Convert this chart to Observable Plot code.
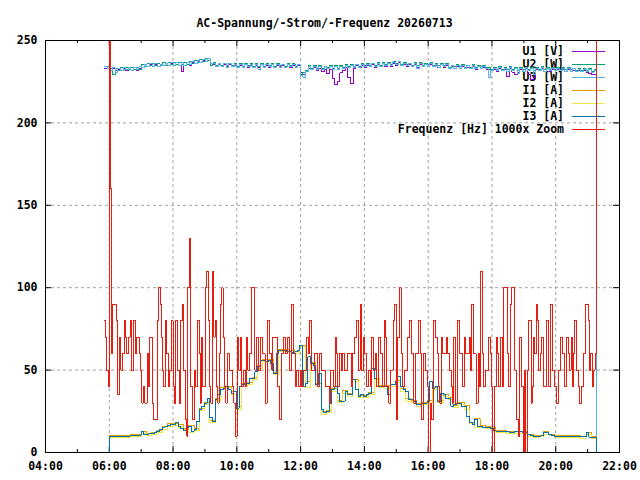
<!DOCTYPE html>
<html><head><meta charset="utf-8">
<script src="https://cdn.jsdelivr.net/npm/d3@7"></script>
<script src="https://cdn.jsdelivr.net/npm/@observablehq/plot@0.6"></script>
<style>body{margin:0;background:#fff}</style>
</head><body><div id="chart"></div>
<script>
const title = "AC-Spannung/-Strom/-Frequenz 20260713";
const seriesNames = ["U1 [V]", "U2 [W]", "U3 [W]", "I1 [A]", "I2 [A]", "I3 [A]", "Frequenz [Hz] 1000x Zoom"];
const seriesColors = ["#9400d3", "#009e73", "#56b4e9", "#e69f00", "#f0e442", "#0072b2", "#e51e10"];
const yTickValues = [0, 50, 100, 150, 200, 250];

// voltages, 5-min samples, 05:51 .. 21:17 (minutes since midnight)
const voltStart = 351, voltEnd = 1277;
const U1 = [233.3, 234.2,
 231.9, 232.8, 231.6, 232.7, 231.8, 233.2, 231.9, 233.5, 232.0, 233.4, 231.8, 233.3,
 233.7, 235.2, 234.3, 235.5, 234.2, 235.4, 234.5, 235.3, 234.7, 236.0, 234.6, 236.2,
 235.0, 236.4, 234.8, 231.2, 235.1, 236.6, 235.0, 236.5, 235.8, 237.3, 236.9, 238.0,
 238.9, 237.9, 236.2, 235.5, 234.6, 235.6, 234.4, 235.2, 234.4, 235.3, 234.2, 235.0,
 233.9, 235.1, 233.8, 235.2, 233.9, 234.8, 234.2, 235.1, 233.9, 235.4, 233.7, 235.0,
 233.9, 235.3, 233.7, 235.1, 234.2, 234.9, 233.8, 235.3, 233.7, 235.1, 233.5, 234.9,
 230.8, 229.2, 231.5, 233.1, 232.3, 233.4, 232.0, 233.2, 231.2, 232.6, 230.2, 232.4,
 227.2, 223.3, 225.2, 230.4, 232.0, 233.5, 227.6, 223.8, 233.2, 234.6, 233.8, 234.7,
 233.9, 234.9, 234.0, 235.5, 233.9, 235.6, 234.2, 235.8, 234.3, 235.9, 234.5, 236.1,
 235.1, 236.8, 234.8, 235.6, 234.5, 235.3, 234.4, 235.5, 233.9, 235.6, 234.0, 235.4,
 234.3, 235.4, 234.2, 235.1, 233.7, 235.3, 233.8, 235.0, 232.8, 234.2, 233.1, 234.1,
 233.1, 234.2, 233.0, 233.9, 232.9, 234.4, 232.6, 234.1, 233.0, 233.8, 232.7, 232.5,
 231.6, 232.7, 231.4, 232.8, 231.5, 232.4, 228.3, 232.9, 230.8, 229.2, 230.4, 232.6,
 231.2, 232.8, 229.6, 226.3, 227.6, 232.4, 231.5, 233.0, 231.3, 232.8, 231.4, 232.3,
 231.5, 232.5, 231.6, 232.3, 231.2, 232.2, 231.3, 232.0, 231.1, 231.9, 230.9, 231.6,
 230.5, 230.0, 229.5, 229.4, 0];
const U2 = [234.0, 234.3,
 233.2, 229.3, 233.0, 231.6, 233.4, 232.1, 233.9, 232.4, 233.7, 232.3, 233.9, 232.6,
 235.4, 234.3, 235.8, 234.6, 236.0, 234.7, 235.9, 234.8, 236.4, 235.1, 236.6, 235.4,
 236.7, 235.4, 236.9, 235.2, 236.6, 235.6, 237.0, 235.8, 237.6, 236.4, 238.3, 237.0,
 239.2, 238.1, 235.1, 236.4, 235.0, 236.3, 234.8, 236.2, 234.7, 236.1, 234.6, 236.0,
 234.5, 236.0, 234.4, 235.9, 234.6, 236.1, 234.3, 235.8, 234.5, 235.9, 234.2, 235.8,
 234.7, 236.0, 234.4, 235.9, 234.6, 235.7, 234.5, 236.0, 234.7, 235.8, 234.3, 235.7,
 229.4, 230.5, 232.0, 234.6, 233.2, 234.8, 233.1, 234.6, 233.0, 234.5, 233.4, 234.9,
 233.3, 234.7, 233.0, 235.0, 233.5, 235.2, 234.0, 235.4, 234.2, 235.6, 234.5, 235.8,
 234.7, 236.0, 234.8, 236.3, 234.9, 236.5, 235.1, 236.6, 235.3, 236.8, 235.5, 237.0,
 236.0, 237.3, 235.4, 236.5, 235.3, 236.3, 235.0, 236.5, 234.9, 236.4, 235.0, 236.2,
 235.2, 236.4, 235.0, 236.1, 234.7, 236.2, 234.8, 236.0, 233.9, 235.1, 234.0, 235.2,
 234.1, 235.3, 233.7, 235.1, 233.9, 235.4, 233.6, 235.0, 234.0, 234.9, 233.7, 233.6,
 232.6, 233.8, 232.3, 234.0, 232.4, 233.7, 232.1, 234.1, 232.3, 233.8, 232.0, 233.5,
 232.2, 233.9, 232.4, 233.5, 232.0, 233.7, 232.5, 234.0, 232.2, 233.8, 232.6, 233.4,
 232.4, 233.6, 232.3, 233.7, 232.1, 233.4, 232.2, 233.3, 232.0, 233.1, 231.8, 232.9,
 231.7, 232.8, 231.4, 232.4, 0];
const U3 = [234.5, 233.2,
 231.8, 233.4, 230.6, 232.9, 231.7, 233.8, 232.2, 233.5, 231.9, 233.6, 232.4, 234.0,
 233.8, 235.6, 234.0, 236.1, 234.4, 235.9, 234.2, 235.7, 234.9, 236.3, 235.0, 236.4,
 235.1, 236.8, 235.0, 236.5, 234.9, 236.9, 235.3, 237.2, 235.9, 237.8, 236.6, 238.6,
 237.4, 239.3, 236.0, 235.8, 234.2, 236.1, 234.5, 235.9, 233.9, 235.8, 234.0, 235.6,
 233.8, 235.5, 233.6, 235.4, 234.0, 235.7, 233.7, 235.3, 232.5, 235.6, 233.9, 235.4,
 234.0, 235.6, 233.5, 235.5, 233.9, 235.2, 233.8, 235.6, 234.1, 235.3, 233.7, 235.2,
 229.0, 227.8, 231.2, 234.0, 232.4, 234.3, 232.6, 234.1, 232.3, 234.0, 232.8, 234.4,
 232.5, 234.2, 232.3, 234.5, 232.8, 234.7, 233.4, 235.0, 233.6, 235.2, 233.9, 235.3,
 234.0, 235.5, 234.1, 235.9, 234.2, 236.0, 234.4, 236.1, 234.6, 236.3, 234.8, 236.5,
 235.3, 237.1, 234.7, 236.0, 234.6, 235.8, 234.4, 236.0, 233.2, 235.9, 234.3, 235.7,
 234.5, 235.9, 234.3, 235.6, 233.9, 235.7, 234.0, 235.5, 233.0, 234.6, 233.2, 234.7,
 233.3, 234.8, 232.9, 234.6, 233.1, 234.9, 232.8, 234.5, 233.2, 234.4, 232.9, 227.3,
 231.8, 233.3, 231.5, 233.5, 231.6, 233.2, 231.3, 233.6, 231.5, 233.3, 229.8, 233.0,
 231.4, 233.4, 231.6, 233.0, 229.5, 233.2, 231.7, 233.5, 231.4, 233.3, 231.8, 232.9,
 231.6, 233.1, 231.5, 233.2, 231.3, 232.9, 231.4, 232.8, 231.2, 232.6, 231.0, 232.4,
 230.9, 232.3, 230.6, 231.9, 0];

// currents, 05:50 .. 21:17
const curStart = 350, curEnd = 1277;
// I1, I2: 10-min samples
const I1 = [0,
 10.6, 10.6, 10.6, 10.6, 10.9, 11,
 12.8, 11.6, 12, 13.6, 15.8, 17.4,
 17.6, 16.8, 14.4, 16.5, 14.6, 26.8,
 30.5, 19.5, 32.6, 39.2, 40.3, 36.8,
 27.8, 41.6, 42.7, 45.8, 52.6, 56.5,
 56.4, 48.8, 62.5, 62.4, 61.6, 61.5,
 65.2, 42.8, 54.5, 41.6, 24.8, 25.6,
 38.6, 31.5, 37.5, 35.6, 44.3, 34.7,
 34.6, 36.5, 45.2, 40.6, 40.4, 41.5,
 43.5, 38.6, 32.5, 31.6, 29.5, 30.6,
 31.5, 39.5, 31.6, 35.4, 33.5, 28.6,
 30.5, 28.5, 18.5, 20.4, 16.5, 15.6,
 15, 13.6, 13.5, 12.6, 12.6, 13,
 12.5, 11, 10.6, 10.5, 12.5, 11,
 10.5, 10.4, 10.3, 10.2, 10.2, 10,
 12.4, 9.8, 0];
const I2 = [0,
 9, 9, 9.2, 9.2, 9.6, 9.7,
 11.4, 10.3, 10.8, 12.2, 14.2, 15.8,
 16.3, 15.2, 13.8, 12.4, 13.2, 25.2,
 29.2, 18, 31.3, 38.2, 39.2, 35.3,
 26.2, 40.2, 41.2, 44.2, 51.2, 55.1,
 55.1, 47.3, 61.2, 61.1, 60.2, 60.2,
 64.1, 39.3, 53.1, 40.3, 23.3, 24.2,
 37.2, 30.2, 36.1, 34.2, 43.1, 33.2,
 33.2, 35.1, 44.1, 39.2, 39.1, 40.2,
 42.2, 37.1, 31.2, 30.3, 28.2, 29.3,
 30.2, 38.1, 30.3, 34.2, 32.1, 27.2,
 29.2, 26.3, 17.3, 15.4, 15.2, 14.3,
 13.8, 12.4, 12.2, 11.5, 11.6, 11.8,
 11.3, 9.8, 9.3, 9.6, 11.2, 10.5,
 9.2, 9.2, 9, 8.9, 8.8, 8.7,
 11.2, 8.5, 0];
// I3: 5-min samples
const I3 = [0, 0,
 10, 10, 10, 10, 10, 10, 10, 10, 10.5, 10.5, 10.5, 10.5,
 12.5, 11, 11, 11.5, 11.5, 12, 13, 14, 15, 15.5, 16.5, 17,
 17, 18.5, 16, 14.5, 13.5, 15, 16, 13, 14, 19, 26, 28,
 30, 33, 21, 18.6, 32, 35, 38, 39, 40, 38, 36, 37,
 27, 40, 41, 42, 42, 45, 45, 49, 52, 56, 56, 55,
 56, 54, 48, 60, 62, 62, 62, 61, 61, 60, 61, 62,
 65, 40, 42, 58, 54, 53, 41, 48, 26, 24, 25, 30,
 38, 40, 36, 31, 31, 37, 35, 35, 44, 38, 34, 35,
 34, 35, 36, 51, 45, 40, 40, 40, 40, 35, 41, 41,
 43, 46, 40, 38, 37, 32, 32, 31, 29, 29, 30, 30,
 31, 43, 39, 40, 31, 36, 35, 33, 33, 28, 29, 30,
 30, 28, 28, 22, 18, 17, 20, 16, 16, 15, 15, 15,
 14.5, 13.5, 13, 13, 13, 13, 12.5, 12, 12, 12.5, 12.5, 12.5,
 12, 12, 11, 10.5, 10, 10, 10, 10.5, 12.3, 12, 11, 10.5,
 10, 10, 10, 10, 9.8, 9.7, 9.7, 9.7, 9.7, 9.6, 9.5, 9.5,
 12, 9.4, 9.3, 9.3, 0];

// frequency (1000x zoom), sample time in minutes since midnight and value
const freqTime = [351, 353, 355, 358, 360, 362, 364, 366, 370, 373, 376, 379, 382, 385, 388, 391, 393, 396, 399, 402,
 406, 409, 412, 416, 418, 421, 424, 427, 431, 434, 436, 438, 441, 444, 447, 451, 453, 456, 458, 460,
 462, 465, 468, 471, 474, 477, 480, 482, 485, 488, 492, 494, 497, 500, 503, 506, 508, 510, 513, 516,
 520, 522, 526, 529, 531, 533, 536, 538, 541, 543, 546, 548, 551, 554, 557, 559, 562, 564, 567, 569,
 572, 574, 577, 579, 582, 586, 589, 592, 594, 597, 601, 604, 607, 609, 612, 616, 618, 621, 624, 628,
 631, 634, 637, 641, 644, 648, 653, 657, 662, 666, 668, 672, 676, 680, 684, 687, 691, 695, 699, 703,
 707, 710, 713, 716, 719, 722, 726, 731, 734, 737, 741, 746, 751, 756, 759, 764, 767, 771, 774, 777,
 781, 785, 787, 790, 794, 797, 799, 803, 809,
 815, 818, 822, 826, 829, 832, 835, 838, 841, 844, 847, 851, 854, 857, 860, 863, 867, 871, 874, 877,
 880, 882, 886, 890, 894, 897, 900, 903, 906, 909, 912, 916, 921, 925, 929, 933, 937, 942, 945, 947,
 951, 955, 958, 961, 964, 966, 970, 974, 977, 980, 982, 985, 987, 991, 994, 997, 1000, 1003, 1006, 1007,
 1011, 1015, 1019, 1024, 1028, 1031, 1034, 1037, 1040, 1042, 1046, 1050, 1054, 1056, 1059, 1062, 1065, 1068, 1073, 1077,
 1079, 1081, 1084, 1088, 1091, 1093, 1096, 1100, 1102, 1106, 1109, 1111, 1114, 1117, 1121, 1123, 1127, 1130, 1132, 1136,
 1140, 1142, 1144, 1146, 1149, 1154, 1156, 1159, 1161, 1163, 1165, 1168, 1172, 1174, 1177, 1182, 1186, 1191, 1194, 1197,
 1201, 1205, 1209, 1212, 1215, 1217, 1220, 1224, 1226, 1229, 1231, 1234, 1236, 1239, 1242, 1245, 1249, 1253, 1256, 1259,
 1261, 1264, 1266, 1269, 1272, 1274, 1277];
const freqValue = [80, 70, 50, 40, 999, 160, 60, 90, 90, 80, 35, 70, 50, 60, 80, 70, 60, 70, 80, 50,
 80, 60, 70, 60, 50, 30, 40, 30, 60, 40, 70, 70, 30, 20, 20, 80, 100, 90, 70, 50,
 40, 80, 60, 40, 50, 80, 40, 30, 80, 50, 30, 80, 90, 50, 20, 10, 100, 130, 40, 20,
 50, 40, 80, 60, 30, 70, 40, 40, 100, 110, 80, 40, 30, 110, 70, 80, 40, 30, 60, 90,
 100, 70, 40, 30, 60, 50, 50, 40, 30, 10, 70, 50, 70, 40, 50, 40, 70, 50, 60, 100,
 100, 50, 70, 50, 70, 60, 30, 80, 60, 50, 70, 70, 40, 20, 60, 70, 60, 70, 50, 90,
 60, 40, 50, 40, 50, 40, 50, 70, 60, 80, 50, 60, 40, 60, 50, 50, 40, 40, 30, 50,
 40, 70, 60, 40, 60, 50, 60, 50, 60,
 40, 60, 70, 80, 50, 90, 50, 70, 60, 40, 50, 40, 70, 50, 60, 40, 70, 60, 40, 80,
 70, 40, 30, 50, 80, 90, 20, 70, 100, 60, 40, 50, 70, 80, 60, 30, 60, 80, 60, 20,
 60, 50, 40, 0, 30, 20, 80, 70, 60, 40, 30, 70, 60, 60, 70, 60, 50, 40, 30, 70,
 30, 80, 60, 40, 70, 60, 60, 70, 50, 90, 60, 30, 60, 40, 110, 60, 40, 50, 70, 60,
 40, 0, 40, 70, 60, 40, 70, 40, 100, 100, 60, 40, 90, 100, 100, 50, 20, 10, 70, 40,
 0, 50, 0, 50, 80, 30, 40, 70, 60, 90, 80, 50, 60, 70, 40, 80, 40, 90, 50, 40,
 30, 50, 70, 60, 60, 40, 70, 60, 50, 70, 40, 60, 80, 50, 40, 30, 40, 60, 90, 90,
 80, 50, 60, 40, 50, 60, 999];

// ---- build ----
const day0 = Date.UTC(2026, 6, 13);
const at = m => new Date(day0 + m * 60000);
function evenly(values, startMin, endMin) {
  const step = (endMin - startMin) / (values.length - 1);
  return values.map((v, i) => ({t: at(startMin + i * step), v}));
}
const seriesData = [
  evenly(U1, voltStart, voltEnd),
  evenly(U2, voltStart, voltEnd),
  evenly(U3, voltStart, voltEnd),
  evenly(I1, curStart, curEnd),
  evenly(I2, curStart, curEnd),
  evenly(I3, curStart, curEnd),
  freqTime.map((m, i) => ({t: at(m), v: freqValue[i]}))
];

const W = 640, H = 480, mL = 45, mR = 21, mT = 40, mB = 28;
const fW = W - mL - mR, fH = H - mT - mB;
const majorT = d3.range(240, 1321, 120).map(at);
const minorT = d3.range(300, 1320, 120).map(at);
const gridT = d3.range(360, 1201, 120).map(at);
const fmt = d3.utcFormat("%H:%M");
const font = {fontFamily: "'DejaVu Sans Mono', monospace", fontWeight: "bold", fontSize: "11.5px"};

const lineMarks = seriesData.map((d, i) => Plot.line(d, {
  x: "t", y: "v", stroke: seriesColors[i], strokeWidth: 1, curve: "step-after", clip: true
}));

const chart = Plot.plot({
  width: W, height: H,
  marginLeft: mL, marginRight: mR, marginTop: mT, marginBottom: mB,
  style: {...font, background: "#fff", color: "#000", overflow: "visible"},
  x: {type: "utc", domain: [at(240), at(1320)]},
  y: {domain: [0, 250]},
  marks: [
    Plot.gridX(gridT, {stroke: "#a0a0a0", strokeOpacity: 1, strokeDasharray: "3,3"}),
    Plot.gridY([50, 100, 150, 200], {stroke: "#a0a0a0", strokeOpacity: 1, strokeDasharray: "3,3"}),
    Plot.tickX(majorT, {x: d => d, insetTop: fH - 6, stroke: "#000"}),
    Plot.tickX(majorT, {x: d => d, insetBottom: fH - 6, stroke: "#000"}),
    Plot.tickX(minorT, {x: d => d, insetTop: fH - 3, stroke: "#000"}),
    Plot.tickX(minorT, {x: d => d, insetBottom: fH - 3, stroke: "#000"}),
    Plot.tickY(yTickValues, {y: d => d, insetRight: fW - 6, stroke: "#000"}),
    Plot.tickY(yTickValues, {y: d => d, insetLeft: fW - 6, stroke: "#000"}),
    Plot.axisX({ticks: majorT, tickSize: 0, tickPadding: 9, tickFormat: fmt, label: null, fill: "#000"}),
    Plot.axisY({ticks: yTickValues, tickSize: 0, tickPadding: 8, label: null, fill: "#000"}),
    ...lineMarks,
    Plot.frame({stroke: "#000"}),
    Plot.text([title], {frameAnchor: "top", text: d => d, dy: -22, dx: -8, fill: "#000"})
  ]
});
document.getElementById("chart").appendChild(chart);

// legend (inserted beneath the data lines, as in the original)
const svg = d3.select(chart);
const lg = svg.insert("g", "g[aria-label='line']").attr("class", "legend");
const textRight = 564, sampleX1 = 572, sampleX2 = 605;
seriesNames.forEach((name, i) => {
  const yy = mT + 11 + 13 * i;
  lg.append("text").attr("x", textRight).attr("y", yy).attr("dy", "0.35em")
    .attr("text-anchor", "end").attr("fill", "#000").text(name);
  lg.append("line").attr("x1", sampleX1).attr("x2", sampleX2).attr("y1", yy + 0.5).attr("y2", yy + 0.5)
    .attr("stroke", seriesColors[i]).attr("stroke-width", 1).attr("shape-rendering", "crispEdges");
});
svg.selectAll("g[aria-label='line'] path").attr("shape-rendering", "crispEdges");
</script>
</body></html>
